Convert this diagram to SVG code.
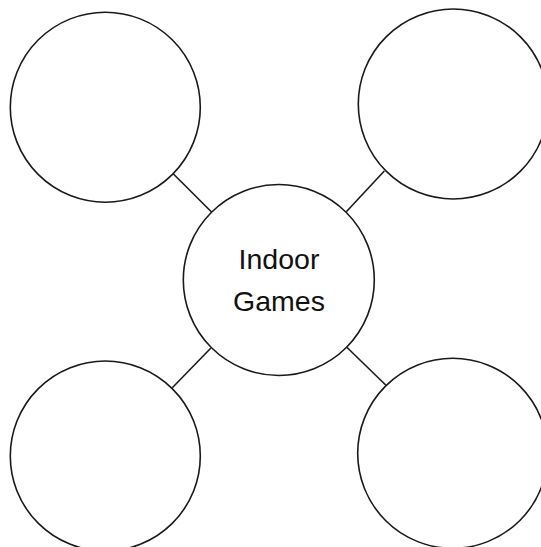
<svg xmlns="http://www.w3.org/2000/svg" width="541" height="547" viewBox="0 0 541 547">
<style>
.node{fill:#fff;stroke:#1a1a1a;stroke-width:1.6}
.conn{stroke:#1a1a1a;stroke-width:1.6;fill:none}
.lbl{font-family:"Liberation Sans","DejaVu Sans",sans-serif;font-size:28.5px;fill:#111;text-anchor:middle}
</style>
<rect width="541" height="547" fill="#fff"/>
<g id="connectors">
<line class="conn" x1="172.7" y1="173.3" x2="211.8" y2="212.3"/>
<line class="conn" x1="384.3" y1="171" x2="346.3" y2="211.7"/>
<line class="conn" x1="210.7" y1="348.3" x2="172.3" y2="387.7"/>
<line class="conn" x1="346.3" y1="346.7" x2="385.7" y2="385"/>
</g>
<g id="node-top-left"><circle class="node" cx="105.3" cy="107.2" r="95"/></g>
<g id="node-top-right"><circle class="node" cx="453.3" cy="104" r="95"/></g>
<g id="node-bottom-left"><circle class="node" cx="105.3" cy="456" r="95"/></g>
<g id="node-bottom-right"><circle class="node" cx="452.7" cy="453.3" r="95"/></g>
<g id="node-center">
<circle class="node" cx="278.8" cy="280" r="95.5"/>
<text class="lbl" x="279" y="268.5">Indoor</text>
<text class="lbl" x="279" y="311">Games</text>
</g>
</svg>
